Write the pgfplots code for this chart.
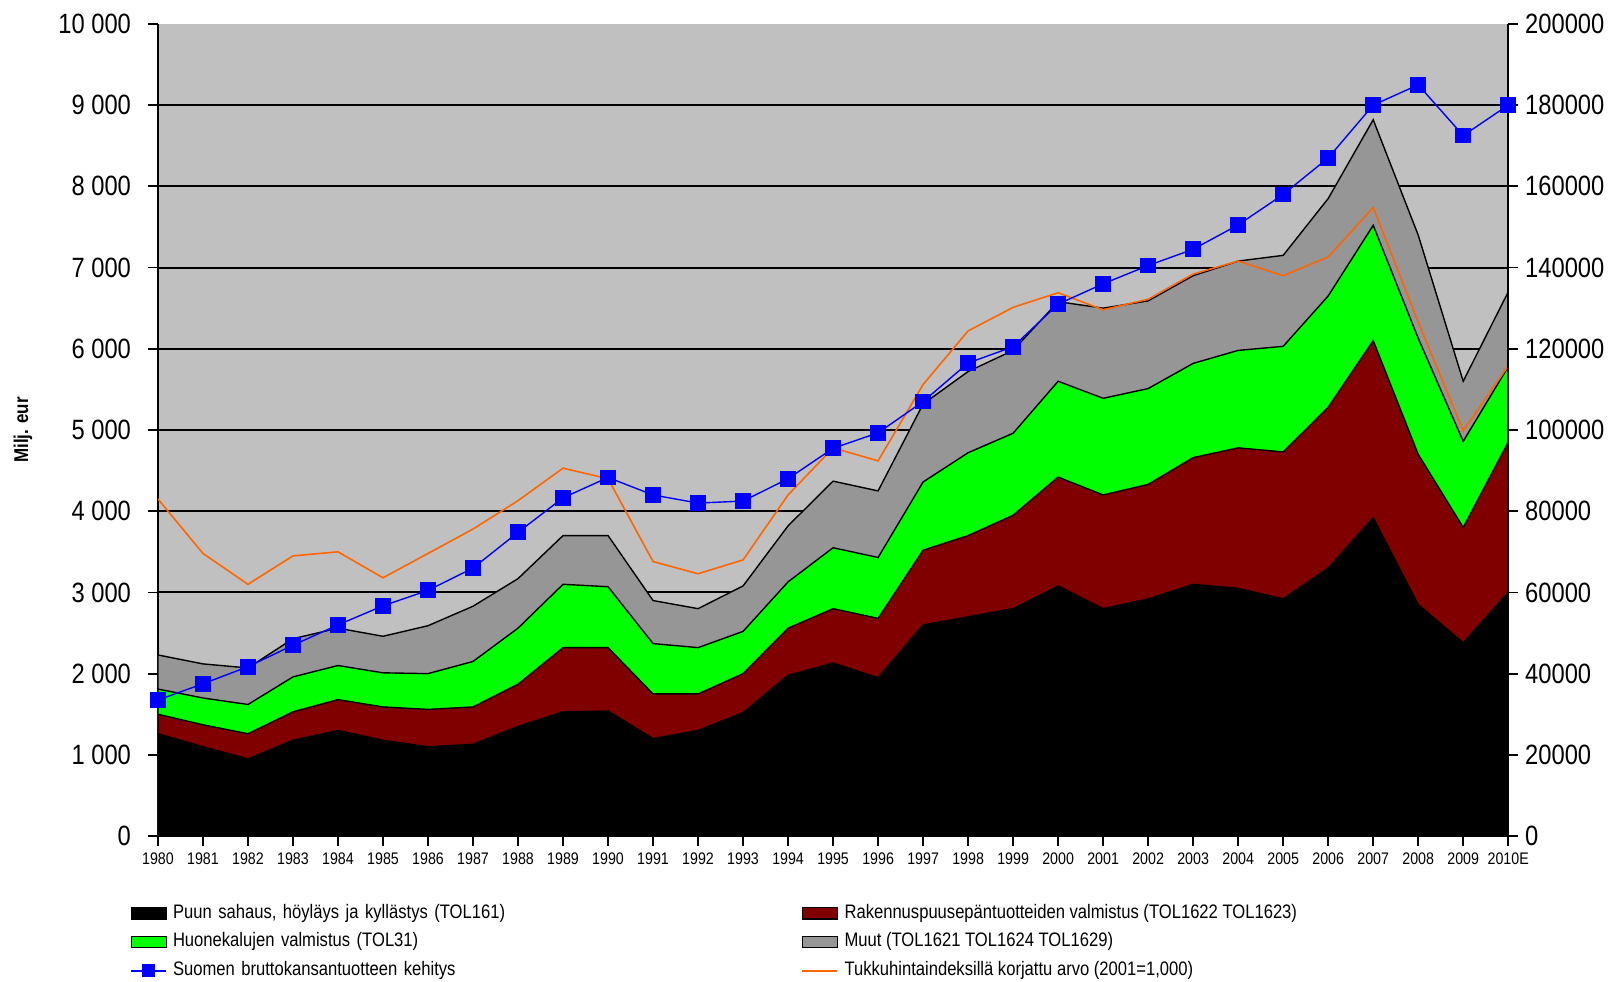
\documentclass[border=0pt]{standalone}
\usepackage{fontspec}
\setmainfont{Liberation Sans}
\newfontfamily\narrowfont[FakeStretch=0.85]{Liberation Sans}
\usepackage{pgfplots}
\usepackage{pgfplotstable}
\pgfplotsset{compat=1.18}
\definecolor{bgc}{RGB}{192,192,192}
\definecolor{dred}{RGB}{128,0,0}
\definecolor{lgreen}{RGB}{0,255,0}
\definecolor{muut}{RGB}{150,150,150}
\definecolor{oran}{RGB}{255,102,0}
\definecolor{bblue}{RGB}{0,0,255}

% cumulative tops of the stacked areas (Milj. eur)
\pgfplotstableread{
year black red green gray orange
1980 1260 1500 1810 2230 4150
1981 1100 1370 1700 2120 3480
1982 950 1260 1620 2070 3100
1983 1180 1530 1960 2430 3450
1984 1300 1680 2100 2560 3500
1985 1180 1590 2010 2460 3180
1986 1100 1560 2000 2590 3480
1987 1130 1590 2150 2830 3780
1988 1350 1870 2560 3170 4130
1989 1530 2320 3100 3700 4530
1990 1540 2320 3070 3700 4400
1991 1200 1750 2370 2900 3380
1992 1300 1750 2320 2800 3230
1993 1520 2000 2520 3080 3400
1994 1980 2560 3130 3820 4200
1995 2130 2800 3550 4370 4780
1996 1950 2680 3430 4250 4620
1997 2600 3520 4360 5320 5560
1998 2700 3700 4720 5720 6220
1999 2800 3950 4960 5980 6510
2000 3080 4420 5600 6580 6690
2001 2800 4200 5390 6500 6480
2002 2920 4330 5510 6590 6610
2003 3100 4660 5820 6900 6920
2004 3050 4780 5980 7080 7080
2005 2920 4730 6030 7150 6900
2006 3300 5280 6650 7850 7130
2007 3920 6100 7520 8820 7740
2008 2850 4700 6130 7400 6330
2009 2380 3800 4860 5600 4990
2010 3000 4850 5780 6700 5790
}\areadata

\pgfplotstableread{
year gdp
1980 33500
1981 37500
1982 41700
1983 47000
1984 52000
1985 56700
1986 60500
1987 66000
1988 74800
1989 83300
1990 88300
1991 84000
1992 82000
1993 82500
1994 88000
1995 95500
1996 99300
1997 107000
1998 116500
1999 120500
2000 131000
2001 136000
2002 140500
2003 144500
2004 150500
2005 158000
2006 167000
2007 180000
2008 185000
2009 172500
2010 180000
}\gdpdata

\pgfplotsset{
  arealeg/.style={legend image code/.code={\draw[##1] (0bp,-2.8bp) rectangle (17.5bp,2.8bp);}},
  lineleg/.style={legend image code/.code={\draw[##1] (0bp,0bp) -- (17.5bp,0bp);}},
  marklineleg/.style={legend image code/.code={\draw[##1] (0bp,0bp) -- (17.5bp,0bp); \draw[##1] plot coordinates {(8.75bp,0bp)};}},
}

\begin{document}
\begin{tikzpicture}
\begin{axis}[
  scale only axis, width=675bp, height=406bp,
  xmin=1980, xmax=2010, ymin=0, ymax=10000,
  axis x line*=bottom, axis y line*=left,
  axis line style={black, line width=0.9bp},
  axis background/.style={fill=bgc},
  ytick={0,1000,...,9000},
  extra y ticks={10000}, extra tick style={grid=none},
  ymajorgrids, major grid style={black, line width=1bp},
  scaled y ticks=false,
  xtick={1980,1981,...,2010},
  xticklabels={1980,1981,1982,1983,1984,1985,1986,1987,1988,1989,1990,1991,1992,1993,1994,1995,1996,1997,1998,1999,2000,2001,2002,2003,2004,2005,2006,2007,2008,2009,2010E},
  tick align=outside,
  major tick length=5bp,
  tick style={black, line width=0.9bp},
  /pgf/number format/assume math mode=true,
  /pgf/number format/fixed,
  /pgf/number format/1000 sep={\ },
  yticklabel style={font=\narrowfont\fontsize{14}{16}\selectfont, xshift=-5bp},
  xticklabel style={font=\narrowfont\fontsize{8.4}{9}\selectfont},
  ylabel={Milj. eur},
  ylabel style={font=\narrowfont\bfseries\fontsize{10}{12}\selectfont, at={(axis description cs:-0.1,0.5)}, anchor=center},
  legend columns=2,
  legend style={at={(axis description cs:-0.0207,-0.084)}, anchor=north west,
    draw=none, fill=none, inner sep=0pt, row sep=5.5bp,
    font=\narrowfont\fontsize{9.8}{11}\selectfont,
    nodes={inner sep=0pt, text height=6.8bp, text depth=2bp},
    /tikz/column 1/.style={column sep=3bp},
    /tikz/column 3/.style={column sep=3bp},
    /tikz/column 2/.style={text width=314bp, align=left},
  },
  legend cell align=left,
]
\addplot[fill=muut, draw=black, line width=0.7bp, forget plot] table[x=year,y=gray]{\areadata} \closedcycle;
\addplot[fill=lgreen, draw=black, line width=0.7bp, forget plot] table[x=year,y=green]{\areadata} \closedcycle;
\addplot[fill=dred, draw=black, line width=0.7bp, forget plot] table[x=year,y=red]{\areadata} \closedcycle;
\addplot[fill=black, draw=black, line width=0.7bp, forget plot] table[x=year,y=black]{\areadata} \closedcycle;
\addplot[oran, line width=0.8bp, forget plot] table[x=year,y=orange]{\areadata};

\addlegendimage{arealeg, fill=black, draw=black, line width=0.6bp}
\addlegendentry{Puun sahaus, höyläys ja kyllästys (TOL161)}
\addlegendimage{arealeg, fill=dred, draw=black, line width=0.6bp}
\addlegendentry{Rakennuspuusepäntuotteiden valmistus (TOL1622 TOL1623)}
\addlegendimage{arealeg, fill=lgreen, draw=black, line width=0.6bp}
\addlegendentry{Huonekalujen valmistus (TOL31)}
\addlegendimage{arealeg, fill=muut, draw=black, line width=0.6bp}
\addlegendentry{Muut (TOL1621 TOL1624 TOL1629)}
\addlegendimage{marklineleg, bblue, line width=0.8bp, mark=square*, mark size=2.8bp, mark options={fill=bblue, draw=bblue}}
\addlegendentry{Suomen bruttokansantuotteen kehitys}
\addlegendimage{lineleg, oran, line width=1.2bp}
\addlegendentry{Tukkuhintaindeksillä korjattu arvo (2001=1,000)}
\end{axis}

\begin{axis}[
  scale only axis, width=675bp, height=406bp,
  xmin=1980, xmax=2010, ymin=0, ymax=200000,
  axis x line=none, axis y line*=right,
  axis line style={black, line width=0.9bp},
  ytick={0,20000,...,200000},
  scaled y ticks=false,
  tick align=outside,
  major tick length=5bp,
  tick style={black, line width=0.9bp},
  /pgf/number format/assume math mode=true,
  /pgf/number format/fixed,
  /pgf/number format/1000 sep={},
  yticklabel style={font=\narrowfont\fontsize{14}{16}\selectfont},
]
\addplot[bblue, line width=0.7bp, mark=square*, mark size=3.6bp, mark options={fill=bblue, draw=bblue}] table[x=year,y=gdp]{\gdpdata};
\end{axis}
\coordinate (bbnw) at (current bounding box.north west);
\coordinate (bbse) at (current bounding box.south east);
\path ([shift={(-3.5bp,3.7bp)}]bbnw) rectangle ([shift={(3bp,-1bp)}]bbse);
\end{tikzpicture}
\end{document}
